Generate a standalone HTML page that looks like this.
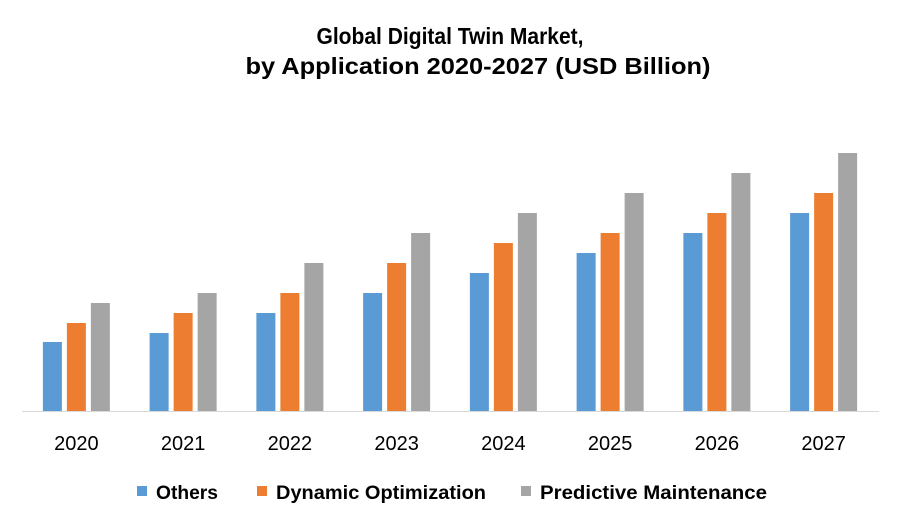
<!DOCTYPE html>
<html><head><meta charset="utf-8"><style>
html,body{margin:0;padding:0;background:#fff}
svg{display:block;font-family:"Liberation Sans",sans-serif}
</style></head><body>
<svg id="chart" width="900" height="525" viewBox="0 0 900 525">
<text x="450" y="44" text-anchor="middle" font-size="23" font-weight="bold" fill="#000" textLength="267" lengthAdjust="spacingAndGlyphs">Global Digital Twin Market,</text>
<text x="478" y="74" text-anchor="middle" font-size="23" font-weight="bold" fill="#000" textLength="465" lengthAdjust="spacingAndGlyphs">by Application 2020-2027 (USD Billion)</text>
<line x1="22" y1="411.5" x2="879" y2="411.5" stroke="#d9d9d9" stroke-width="1"/>
<g id="bars"></g>
<g id="labels"></g>
<g>
<rect x="137" y="486" width="10" height="10" fill="#5b9bd5"/>
<text x="156" y="499" font-size="19" font-weight="bold" textLength="62" lengthAdjust="spacingAndGlyphs">Others</text>
<rect x="257" y="486" width="10" height="10" fill="#ed7d31"/>
<text x="276" y="499" font-size="19" font-weight="bold" textLength="210" lengthAdjust="spacingAndGlyphs">Dynamic Optimization</text>
<rect x="521" y="486" width="10" height="10" fill="#a5a5a5"/>
<text x="540" y="499" font-size="19" font-weight="bold" textLength="227" lengthAdjust="spacingAndGlyphs">Predictive Maintenance</text>
</g>
</svg>
<script>
const categories = ["2020","2021","2022","2023","2024","2025","2026","2027"];
const others = [6.9, 7.8, 9.8, 11.8, 13.8, 15.8, 17.8, 19.8];
const dynamicOpt = [8.8, 9.8, 11.8, 14.8, 16.8, 17.8, 19.8, 21.8];
const predictive = [10.8, 11.8, 14.8, 17.8, 19.8, 21.8, 23.8, 25.8];
const seriesList = [[others,"#5b9bd5","others"],[dynamicOpt,"#ed7d31","dynamic-optimization"],[predictive,"#a5a5a5","predictive-maintenance"]];
const x0 = 23, x1 = 877, base = 411, pxPerUnit = 10;
const band = (x1 - x0) / categories.length;
const xCenter = i => x0 + band * (i + 0.5);
const yScale = v => base - v * pxPerUnit;
const ns = "http://www.w3.org/2000/svg";
const bars = document.getElementById("bars");
const labels = document.getElementById("labels");
categories.forEach((c, i) => {
  seriesList.forEach((s, k) => {
    const r = document.createElementNS(ns, "rect");
    const w = 19;
    const cx = xCenter(i) + (k - 1) * 24;
    const top = yScale(s[0][i]);
    r.setAttribute("x", cx - w / 2);
    r.setAttribute("y", top);
    r.setAttribute("width", w);
    r.setAttribute("height", base - top);
    r.setAttribute("fill", s[1]);
    
    
    bars.appendChild(r);
  });
  const t = document.createElementNS(ns, "text");
  t.setAttribute("x", xCenter(i));
  t.setAttribute("y", 450);
  t.setAttribute("text-anchor", "middle");
  t.setAttribute("font-size", "20");
  t.setAttribute("fill", "#000");
  t.textContent = c;
  
  
  labels.appendChild(t);
});
</script>
</body></html>
